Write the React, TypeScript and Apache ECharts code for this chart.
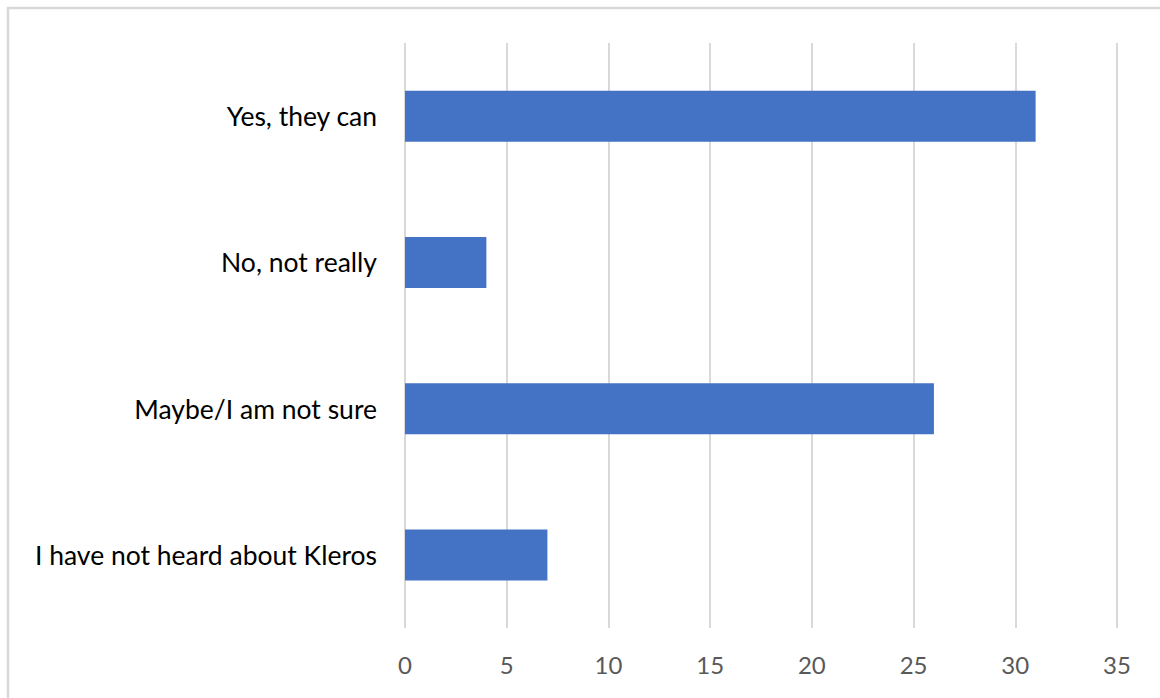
import React, { useEffect, useRef } from "react";
import * as echarts from "echarts";

const categories = [
  "I have not heard about Kleros",
  "Maybe/I am not sure",
  "No, not really",
  "Yes, they can",
];
const values = [7, 26, 4, 31];
const xMin = 0;
const xMax = 35;
const xInterval = 5;

export default function App() {
  const ref = useRef<HTMLDivElement>(null);
  useEffect(() => {
    document.body.style.margin = "0";
    const chart = echarts.init(ref.current!, undefined, { renderer: "svg" });
    chart.setOption({
      animation: false,
      backgroundColor: "#ffffff",
      textStyle: { fontFamily: "Lato" },
      graphic: [
        {
          type: "rect",
          shape: { x: 8, y: 8, width: 1170, height: 720 },
          style: { fill: "none", stroke: "#d9d9d9", lineWidth: 2.5 },
          silent: true,
        },
      ],
      grid: { left: 405, right: 43, top: 43, bottom: 70, containLabel: false },
      xAxis: {
        type: "value",
        min: xMin,
        max: xMax,
        interval: xInterval,
        axisLine: { show: false },
        axisTick: { show: false },
        axisLabel: { color: "#595959", fontSize: 24, margin: 24, fontFamily: "Lato" },
        splitLine: { show: true, lineStyle: { color: "#d9d9d9", width: 2 } },
      },
      yAxis: {
        type: "category",
        data: categories,
        axisLine: { show: false },
        axisTick: { show: false },
        axisLabel: { color: "#000000", fontSize: 26.5, margin: 28, fontFamily: "Lato", padding: [0, 0, 3, 0] },
      },
      series: [
        {
          type: "bar",
          data: values,
          barWidth: 51,
          itemStyle: { color: "#4472C4" },
        },
      ],
    });
    return () => chart.dispose();
  }, []);
  return <div ref={ref} style={{ width: 1160, height: 698 }} />;
}
